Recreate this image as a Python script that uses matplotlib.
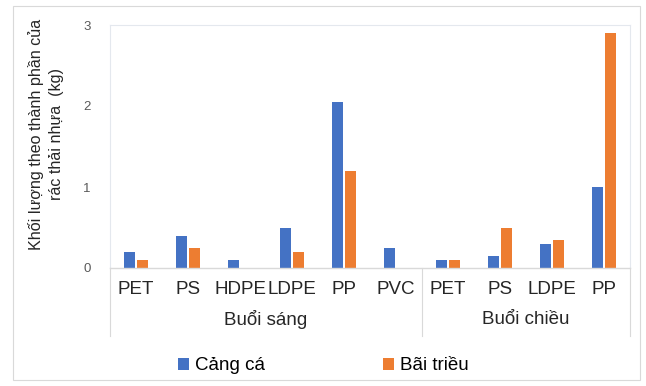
import numpy as np
import matplotlib.pyplot as plt
from matplotlib.lines import Line2D
from matplotlib.patches import Rectangle

plt.rcParams['font.family'] = ['Liberation Sans', 'DejaVu Sans']

# plastic types, grouped by sampling session
loai_nhua = ['PET', 'PS', 'HDPE', 'LDPE', 'PP', 'PVC', 'PET', 'PS', 'LDPE', 'PP']
buoi = ['Buổi sáng', 'Buổi chiều']
so_loai_moi_buoi = [6, 4]

cang_ca = [0.2, 0.4, 0.1, 0.5, 2.05, 0.25, 0.1, 0.15, 0.3, 1.0]
bai_trieu = [0.1, 0.25, 0.0, 0.2, 1.2, 0.0, 0.1, 0.5, 0.35, 2.9]

blue = '#4472C4'
orange = '#ED7D31'
line_col = '#D9D9D9'

fig = plt.figure(figsize=(6.46, 3.86), dpi=100)
W, H = 646, 386

# outer frame of the chart
fig.add_artist(Rectangle((13 / W, 1 - 380 / H), 627 / W, 374 / H,
                         transform=fig.transFigure, fill=False,
                         edgecolor=line_col, linewidth=0.8))

x0, x1, y0, y1 = 110, 630, 268, 25
ax = fig.add_axes([x0 / W, 1 - y0 / H, (x1 - x0) / W, (y0 - y1) / H])

x = np.arange(len(loai_nhua))
w = 0.22
ax.bar(x - 0.13, cang_ca, w, color=blue, label='Cảng cá')
ax.bar(x + 0.13, bai_trieu, w, color=orange, label='Bãi triều')

ax.set_xlim(-0.5, len(loai_nhua) - 0.5)
ax.set_ylim(0, 3)
ax.set_yticks([0, 1, 2, 3])
ax.tick_params(axis='y', length=0, labelsize=9.5, labelcolor='#595959', pad=14)
ax.set_xticks(x)
ax.set_xticklabels(loai_nhua, fontsize=13.5, color='#262626')
ax.tick_params(axis='x', length=0, pad=9)

for s in ['top', 'right', 'left']:
    ax.spines[s].set_color('#E4E8EE')
    ax.spines[s].set_linewidth(0.8)
ax.spines['bottom'].set_color(line_col)
ax.spines['bottom'].set_linewidth(1.0)

# group labels and separators under the axis
bien = np.concatenate([[0], np.cumsum(so_loai_moi_buoi)]) - 0.5
for xb in bien:
    xf = (x0 + (xb + 0.5) / len(loai_nhua) * (x1 - x0)) / W
    fig.add_artist(Line2D([xf, xf], [1 - 268 / H, 1 - 336 / H],
                          transform=fig.transFigure, color=line_col, lw=0.8))
for i, ten in enumerate(buoi):
    xc = (bien[i] + bien[i + 1]) / 2
    ax.text(xc, -0.21, ten, transform=ax.get_xaxis_transform(),
            ha='center', va='center', fontsize=13.5, color='#262626')

ax.set_ylabel('Khối lượng theo thành phần của\nrác thải nhựa  (kg)',
              fontsize=11.6, color='#262626', linespacing=1.38, va='center')
ax.yaxis.set_label_coords(-0.123, 0.55)

fig.legend(loc='center', bbox_to_anchor=(0.5, 1 - 366 / H), ncol=2,
           frameon=False, fontsize=13.5, handlelength=0.6, handleheight=0.6,
           handletextpad=0.3, columnspacing=6.3)

fig.savefig('out.png', dpi=100)
